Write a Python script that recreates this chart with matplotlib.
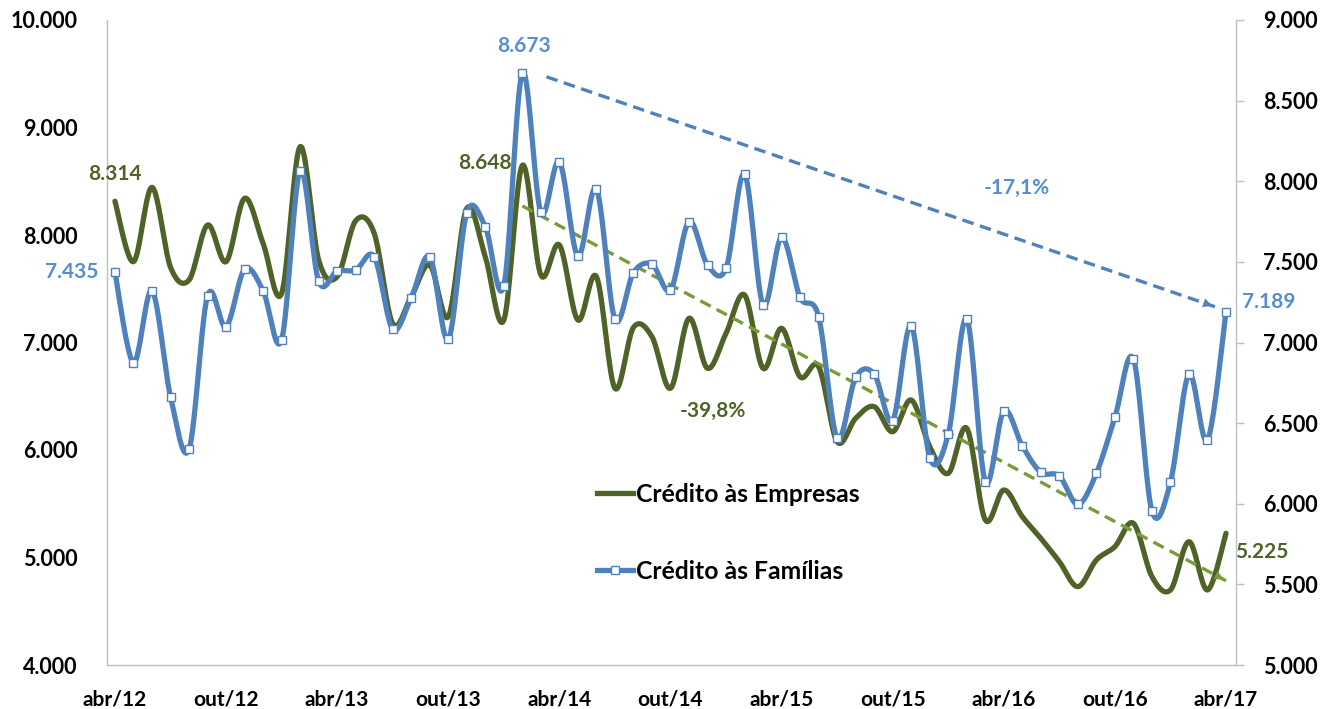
import numpy as np
import matplotlib
matplotlib.use("Agg")
import matplotlib.pyplot as plt
from matplotlib.lines import Line2D

# ---------------- data ----------------
months = list(range(61))  # abr/12 .. abr/17 (monthly)
tick_pos = list(range(0, 61, 6))
tick_labels = ["abr/12", "out/12", "abr/13", "out/13", "abr/14", "out/14",
               "abr/15", "out/15", "abr/16", "out/16", "abr/17"]

empresas = [8314, 7752, 8443, 7700, 7581, 8093, 7752, 8341, 7922, 7457,
            8822, 7767, 7612, 8133, 8016, 7175, 7426, 7721, 7240, 8248,
            7798, 7209, 8648, 7628, 7907, 7209, 7612, 6574, 7140, 7054,
            6574, 7225, 6760, 7085, 7442, 6760, 7132, 6680, 6775, 6077,
            6295, 6403, 6170, 6465, 6031, 5783, 6202, 5350, 5628, 5380,
            5178, 4961, 4729, 4977, 5101, 5318, 4822, 4698, 5147, 4698,
            5225]

familias = [7435, 6875, 7321, 6664, 6337, 7290, 7098, 7454, 7321, 7016,
            8066, 7381, 7443, 7450, 7532, 7082, 7278, 7532, 7020, 7805,
            7718, 7352, 8673, 7807, 8121, 7536, 7952, 7144, 7433, 7485,
            7326, 7749, 7481, 7460, 8045, 7233, 7652, 7280, 7160, 6406,
            6784, 6805, 6515, 7104, 6286, 6431, 7146, 6137, 6575, 6358,
            6195, 6172, 5996, 6189, 6536, 6898, 5955, 6133, 6803, 6395,
            7189]

green_trend = ([22, 60], [8270, 4784])     # left axis
blue_trend = ([23.3, 59.4], [8648, 7222])  # right axis

# ---------------- styles ----------------
C_GREEN = "#4F6228"
C_BLUE = "#4F81BD"
C_BLUE_TXT = "#558ED5"
C_TREND_G = "#7A9C35"
FONT = "Lato"
plt.rcParams["font.family"] = [FONT, "DejaVu Sans"]


def smooth(x, y, n=20):
    """Excel-like smoothed line (Catmull-Rom Bezier through points)."""
    x = np.asarray(x, float)
    y = np.asarray(y, float)
    P = np.column_stack([x, y])
    out = []
    N = len(P)
    t = np.linspace(0, 1, n, endpoint=False)[:, None]
    for i in range(N - 1):
        p0 = P[i - 1] if i > 0 else P[i]
        p1 = P[i]
        p2 = P[i + 1]
        p3 = P[i + 2] if i + 2 < N else P[i + 1]
        c1 = p1 + (p2 - p0) / 6.0
        c2 = p2 - (p3 - p1) / 6.0
        seg = ((1 - t) ** 3) * p1 + 3 * ((1 - t) ** 2) * t * c1 + 3 * (1 - t) * t ** 2 * c2 + t ** 3 * p2
        out.append(seg)
    out.append(P[-1][None, :])
    out = np.vstack(out)
    return out[:, 0], out[:, 1]


def fmt(v):
    return f"{v:,}".replace(",", ".")


fig = plt.figure(figsize=(13.3, 7.09), dpi=100)
ax = fig.add_axes([107 / 1330, 1 - 665 / 709, (1236 - 107) / 1330, (665 - 20) / 709])
ax2 = ax.twinx()

# green (left axis)
sx, sy = smooth(months, empresas)
ax.plot(sx, sy, color=C_GREEN, lw=3.8, solid_capstyle="round", zorder=3)
ax.plot(green_trend[0], green_trend[1], color=C_TREND_G, lw=2.4, ls=(0, (3.5, 2)), zorder=4)
slope_g = (green_trend[1][1] - green_trend[1][0]) / (green_trend[0][1] - green_trend[0][0])
ax.annotate("", xy=(green_trend[0][1], green_trend[1][1]),
            xytext=(green_trend[0][1] - 0.6, green_trend[1][1] - 0.6 * slope_g),
            arrowprops=dict(arrowstyle="-|>", color=C_TREND_G, lw=0.1, mutation_scale=16), zorder=4)

# blue (right axis)
bx, by = smooth(months, familias)
ax2.plot(bx, by, color=C_BLUE, lw=3.8, solid_capstyle="round", zorder=3)
ax2.plot(months, familias, ls="none", marker="s", ms=6.2, mfc="white", mec=C_BLUE, mew=1.0, zorder=5)
ax2.plot(blue_trend[0], blue_trend[1], color=C_BLUE, lw=2.4, ls=(0, (3.5, 2)), zorder=4)
slope_b = (blue_trend[1][1] - blue_trend[1][0]) / (blue_trend[0][1] - blue_trend[0][0])
ax2.annotate("", xy=(blue_trend[0][1], blue_trend[1][1]),
             xytext=(blue_trend[0][1] - 0.6, blue_trend[1][1] - 0.6 * slope_b),
             arrowprops=dict(arrowstyle="-|>", color=C_BLUE, lw=0.1, mutation_scale=16), zorder=4)

# axes limits / ticks
ax.set_xlim(-0.43, 60.54)
ax.set_ylim(4000, 10000)
ax2.set_ylim(5000, 9000)
ax.set_xticks(tick_pos)
ax.set_xticklabels(tick_labels)
ax.set_yticks(range(4000, 10001, 1000))
ax.set_yticklabels([fmt(v) for v in range(4000, 10001, 1000)])
ax2.set_yticks(range(5000, 9001, 500))
ax2.set_yticklabels([fmt(v) for v in range(5000, 9001, 500)])

for a in (ax, ax2):
    a.spines["top"].set_visible(False)
    for s in ("left", "right", "bottom"):
        a.spines[s].set_color("#BFBFBF")
        a.spines[s].set_linewidth(1.0)
ax.spines["right"].set_visible(False)
ax2.spines["left"].set_visible(False)
ax2.spines["bottom"].set_visible(False)

ax.tick_params(axis="y", length=0, pad=21, labelsize=15.5, labelcolor="black")
ax.tick_params(axis="x", length=0, pad=18, labelsize=15, labelcolor="black")
ax2.tick_params(axis="y", length=5.5, width=1, color="#BFBFBF", pad=14, labelsize=15.5, labelcolor="black")
for lab in ax.get_xticklabels() + ax.get_yticklabels() + ax2.get_yticklabels():
    lab.set_fontweight("bold")

# annotations
tk = dict(fontsize=15, fontweight="bold")
ax.text(0, 8567, fmt(empresas[0]), color=C_GREEN, ha="center", va="center", **tk)
ax2.text(-0.92, 7437, fmt(familias[0]), color=C_BLUE_TXT, ha="right", va="center", **tk)
ax2.text(22.1, 8839, fmt(familias[22]), color=C_BLUE_TXT, ha="center", va="center", **tk)
ax.text(21.45, 8670, fmt(empresas[22]), color=C_GREEN, ha="right", va="center", **tk)
ax2.text(48.7, 7958, "-17,1%", color=C_BLUE_TXT, ha="center", va="center", **tk)
ax2.text(60.86, 7251, fmt(familias[60]), color=C_BLUE_TXT, ha="left", va="center", **tk)
ax.text(32.3, 6363, "-39,8%", color=C_GREEN, ha="center", va="center", **tk)
ax.text(60.5, 5051, fmt(empresas[60]), color=C_GREEN, ha="left", va="center", **tk)

# legend
h1 = Line2D([], [], color=C_GREEN, lw=3.8)
h2 = Line2D([], [], color=C_BLUE, lw=3.8, marker="s", ms=6.2, mfc="white", mec=C_BLUE, mew=1.0)
leg = ax2.legend([h1, h2], ["Crédito às Empresas", "Crédito às Famílias"],
                 loc="center left", bbox_to_anchor=(0.423, 0.205), frameon=False,
                 prop={"family": FONT, "weight": "bold", "size": 17.8},
                 handlelength=1.45, handletextpad=0.15, labelspacing=2.2, borderpad=0)

fig.savefig("out.png", dpi=100, facecolor="white")
